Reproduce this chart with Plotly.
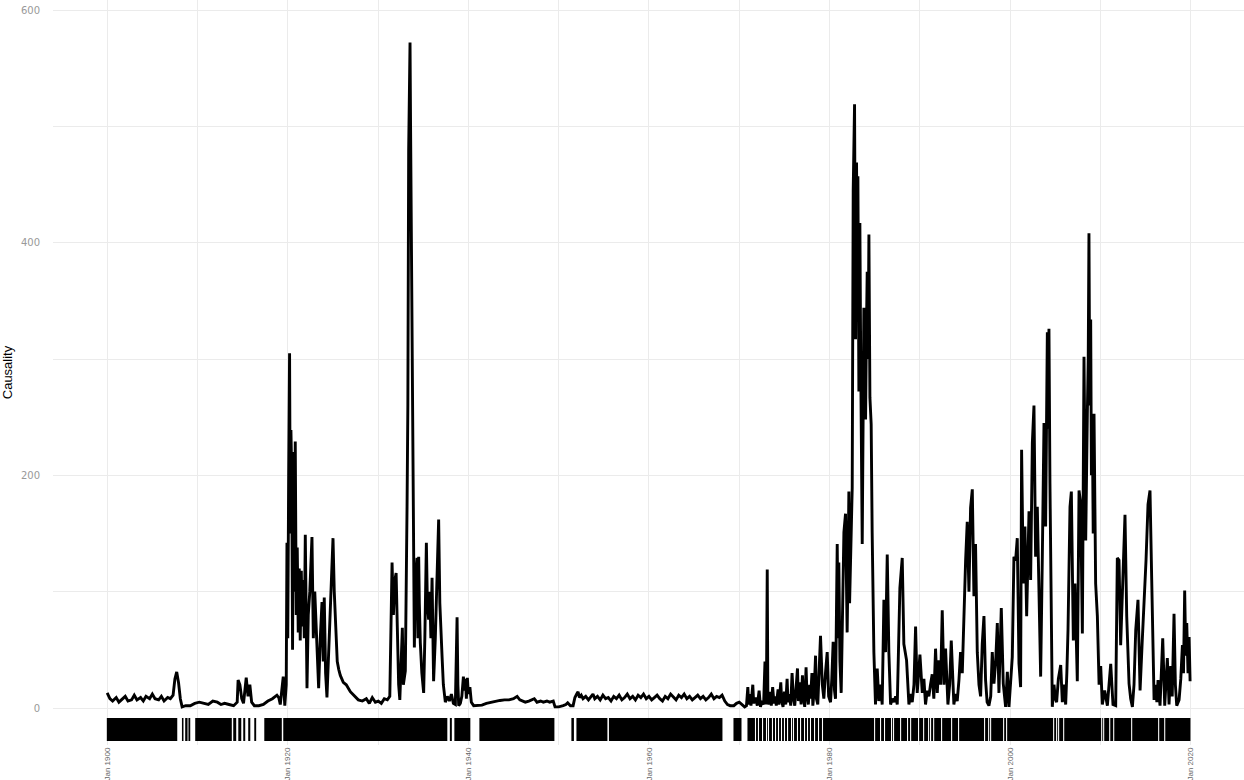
import plotly.graph_objects as go

# ---------------- data (decimal years, causality values) ----------------
yr_1900 = [1900.0, 1900.3, 1900.6, 1901.0, 1901.3, 1901.7, 1902.0, 1902.3, 1902.7, 1903.0,
           1903.3, 1903.7, 1904.0, 1904.3, 1904.7, 1905.0, 1905.3, 1905.7, 1906.0, 1906.3,
           1906.7, 1907.0, 1907.3, 1907.5, 1907.7, 1907.9, 1908.1, 1908.3, 1908.7, 1909.2,
           1909.7, 1910.2, 1910.7, 1911.2, 1911.7, 1912.2, 1912.6, 1913.0, 1913.5, 1914.0,
           1914.4, 1914.5, 1914.7, 1914.9, 1915.1, 1915.3, 1915.4, 1915.6, 1915.8, 1916.0,
           1916.3, 1916.8, 1917.3, 1917.8, 1918.3, 1918.8, 1919.0]
val_1900 = [13, 8, 6, 9, 5, 8, 10, 6, 7, 11,
            7, 9, 6, 10, 8, 12, 8, 7, 10, 6,
            9, 8, 11, 25, 31, 22, 8, 1, 2, 2,
            4, 5, 4, 3, 6, 5, 3, 4, 3, 2,
            5, 24, 20, 8, 4, 18, 26, 10, 20, 5,
            2, 2, 3, 6, 8, 11, 9]

yr_1919 = [1919.17, 1919.33, 1919.5, 1919.67, 1919.83, 1919.91, 1920.0, 1920.1, 1920.2, 1920.28,
           1920.35, 1920.44, 1920.53, 1920.64, 1920.72, 1920.83, 1920.94, 1921.05, 1921.16, 1921.27,
           1921.38, 1921.5, 1921.6, 1921.72, 1921.83, 1921.94, 1922.05, 1922.13, 1922.27, 1922.44,
           1922.68, 1922.83, 1922.99, 1923.16, 1923.42, 1923.6, 1923.79, 1923.93, 1924.04, 1924.19,
           1924.34, 1924.54, 1924.71, 1924.88, 1925.01, 1925.15, 1925.32, 1925.48, 1925.65, 1925.82,
           1926.15, 1926.48, 1926.93, 1927.37, 1927.81, 1928.26, 1928.7, 1929.03, 1929.36, 1929.7,
           1930.03, 1930.36, 1930.69, 1931.03, 1931.3, 1931.55, 1931.7, 1931.86, 1932.0, 1932.13,
           1932.28, 1932.41, 1932.58, 1932.69, 1932.8, 1933.02, 1933.21, 1933.3, 1933.39, 1933.46,
           1933.54, 1933.6, 1933.68, 1933.77, 1933.85, 1933.94, 1934.02, 1934.13, 1934.32, 1934.41,
           1934.5, 1934.57, 1934.68, 1934.85, 1935.05, 1935.18, 1935.35, 1935.46, 1935.6, 1935.73,
           1935.85, 1935.98, 1936.07, 1936.15, 1936.34, 1936.51, 1936.71, 1936.84, 1936.95, 1937.09,
           1937.23, 1937.45, 1937.67, 1937.9, 1938.12, 1938.34, 1938.56, 1938.75, 1938.84, 1938.93,
           1939.11, 1939.28, 1939.45, 1939.56, 1939.67, 1939.78, 1939.89, 1940.0, 1940.17, 1940.33,
           1940.59]
val_1919 = [3, 15, 27, 2, 20, 142, 60, 200, 305, 150,
            239, 200, 50, 220, 100, 229, 80, 138, 65, 120,
            58, 118, 70, 110, 60, 149, 50, 17, 80, 100,
            147, 60, 100, 60, 17, 60, 91, 40, 95, 30,
            9, 50, 87, 110, 146, 100, 60, 40, 33, 28,
            22, 20, 14, 10, 7, 6, 8, 4, 9, 5,
            6, 4, 8, 7, 10, 125, 80, 110, 116, 70,
            20, 7, 40, 69, 20, 32, 173, 260, 480, 540,
            572, 500, 420, 330, 260, 150, 52, 110, 129, 60,
            130, 90, 56, 30, 13, 60, 142, 90, 76, 100,
            60, 112, 50, 23, 60, 100, 162, 90, 60, 44,
            20, 5, 10, 6, 12, 4, 3, 78, 20, 2,
            4, 10, 27, 15, 25, 8, 26, 12, 18, 5,
            2]

yr_1941 = [1941.0, 1941.5, 1942.0, 1942.5, 1943.0, 1943.5, 1944.0, 1944.5, 1945.0, 1945.4,
           1945.7, 1946.0, 1946.3, 1946.7, 1947.0, 1947.3, 1947.6, 1948.0, 1948.3, 1948.7,
           1949.0, 1949.4, 1949.6, 1950.0, 1950.5, 1950.8, 1951.0, 1951.3, 1951.6, 1951.8,
           1952.0, 1952.15, 1952.3, 1952.5, 1952.7, 1953.0, 1953.3, 1953.5, 1953.8, 1954.0,
           1954.3, 1954.6, 1954.9, 1955.2, 1955.5, 1955.8, 1956.1, 1956.4, 1956.7, 1957.0,
           1957.3, 1957.6, 1957.9, 1958.2, 1958.5, 1958.8, 1959.1, 1959.4, 1959.7, 1960.0,
           1960.3, 1960.6, 1960.9, 1961.2, 1961.5, 1961.8, 1962.1, 1962.4, 1962.7, 1963.0,
           1963.3, 1963.6, 1963.9, 1964.2, 1964.5, 1964.8, 1965.1, 1965.4, 1965.7, 1966.0,
           1966.3, 1966.6, 1966.9, 1967.2, 1967.5, 1967.8, 1968.1, 1968.4, 1968.7, 1969.0,
           1969.4, 1969.7, 1970.0, 1970.3, 1970.6]
val_1941 = [2, 2.5, 4, 5, 6, 6.5, 7, 7, 8, 10,
            7, 6, 5, 6, 7, 8, 5, 6, 5, 6,
            5, 6, 1, 1, 2, 3, 4.5, 2, 2, 9,
            12, 14, 9, 11, 8, 10, 7, 9, 12, 8,
            10, 7, 11, 8, 9, 6, 10, 8, 11, 7,
            9, 12, 8, 10, 7, 11, 9, 12, 8, 10,
            7, 9, 11, 8, 6, 10, 8, 12, 9, 7,
            11, 9, 12, 8, 10, 7, 9, 11, 8, 10,
            7, 9, 12, 8, 10, 9, 11, 6, 3, 2,
            2, 4, 5, 3, 1]

yr_1970 = [1970.8, 1970.95, 1971.05, 1971.2, 1971.3, 1971.5, 1971.6, 1971.8, 1972.0, 1972.2,
           1972.35, 1972.5, 1972.7, 1972.85, 1973.0, 1973.1, 1973.17, 1973.3, 1973.45, 1973.55,
           1973.7, 1973.85, 1974.0, 1974.1, 1974.3, 1974.4, 1974.6, 1974.7, 1974.85, 1975.0,
           1975.15, 1975.3, 1975.4, 1975.55, 1975.7, 1975.85, 1976.0, 1976.15, 1976.3, 1976.45,
           1976.55, 1976.7, 1976.85, 1977.0, 1977.1, 1977.25, 1977.4, 1977.5, 1977.65, 1977.8,
           1977.9, 1978.05, 1978.15, 1978.3, 1978.45, 1978.55, 1978.7, 1978.8, 1978.9, 1979.0,
           1979.2, 1979.37, 1979.55, 1979.74, 1979.9, 1980.11, 1980.25, 1980.4, 1980.55, 1980.66,
           1980.85, 1980.95, 1981.03, 1981.15, 1981.29, 1981.45, 1981.59, 1981.77, 1981.95, 1982.05,
           1982.14, 1982.22, 1982.32, 1982.42, 1982.51, 1982.62, 1982.77, 1982.88, 1982.99, 1983.07,
           1983.14, 1983.25, 1983.36, 1983.45, 1983.51, 1983.62, 1983.72, 1983.8, 1983.9, 1983.99,
           1984.08, 1984.17, 1984.27, 1984.36, 1984.47, 1984.61, 1984.72, 1984.81, 1984.91, 1985.09,
           1985.28, 1985.46, 1985.65, 1985.83, 1986.02, 1986.2, 1986.39, 1986.57, 1986.76, 1986.95,
           1987.13, 1987.32, 1987.5, 1987.79, 1988.05, 1988.23, 1988.53, 1988.79, 1988.98, 1989.16,
           1989.35, 1989.53, 1989.71, 1990.01, 1990.27, 1990.45, 1990.63, 1990.82, 1991.0, 1991.18,
           1991.37, 1991.55, 1991.74, 1991.93, 1992.11, 1992.3, 1992.48, 1992.67, 1992.85, 1993.11,
           1993.3, 1993.48, 1993.77, 1993.95, 1994.14, 1994.33, 1994.51, 1994.7, 1994.88, 1995.07,
           1995.25, 1995.44, 1995.62, 1995.81, 1995.99, 1996.17, 1996.36, 1996.55, 1996.73, 1996.91,
           1997.1, 1997.28, 1997.45, 1997.65, 1997.85]
val_1970 = [2, 18, 3, 12, 2, 20, 4, 9, 2, 15,
            1, 6, 3, 40, 3, 119, 8, 3, 14, 2,
            18, 4, 10, 2, 16, 3, 22, 6, 1, 14,
            3, 25, 5, 12, 2, 30, 8, 2, 18, 34,
            6, 22, 3, 28, 10, 1, 35, 12, 3, 20,
            8, 30, 2, 15, 45, 8, 3, 25, 50, 62,
            20, 8, 30, 48, 10, 5, 25, 57, 15, 8,
            141, 60, 125, 40, 13, 90, 151, 167, 65, 120,
            186, 90, 117, 150, 189, 444, 519, 317, 469, 380,
            457, 272, 417, 300, 196, 141, 250, 344, 290, 248,
            320, 375, 300, 407, 267, 244, 151, 90, 48, 3,
            34, 6, 20, 3, 93, 48, 132, 48, 3, 8,
            5, 10, 3, 103, 129, 55, 41, 3, 12, 5,
            20, 70, 13, 46, 13, 25, 3, 15, 10, 20,
            29, 8, 51, 13, 41, 20, 84, 20, 51, 3,
            20, 58, 3, 12, 6, 24, 48, 30, 86, 127,
            160, 100, 172, 188, 96, 141, 48, 20, 10, 55,
            79, 24, 5, 2, 10]

yr_1998 = [1998.02, 1998.21, 1998.4, 1998.58, 1998.76, 1999.02, 1999.24, 1999.5, 1999.69, 1999.87,
           2000.05, 2000.24, 2000.42, 2000.61, 2000.79, 2000.98, 2001.16, 2001.27, 2001.46, 2001.64,
           2001.83, 2002.09, 2002.27, 2002.46, 2002.64, 2002.82, 2003.01, 2003.19, 2003.38, 2003.56,
           2003.75, 2003.93, 2004.03, 2004.12, 2004.22, 2004.3, 2004.41, 2004.56, 2004.67, 2004.86,
           2005.0, 2005.15, 2005.34, 2005.6, 2005.78, 2005.96, 2006.15, 2006.28, 2006.41, 2006.63,
           2006.78, 2007.0, 2007.18, 2007.44, 2007.63, 2007.81, 2008.0, 2008.18, 2008.37, 2008.55,
           2008.65, 2008.73, 2008.82, 2008.92, 2009.0, 2009.1, 2009.2, 2009.29, 2009.47, 2009.66,
           2009.85, 2010.03, 2010.21, 2010.47, 2010.77, 2010.95, 2011.14, 2011.39, 2011.69, 2011.87,
           2012.06, 2012.24, 2012.54, 2012.72, 2012.91, 2013.17, 2013.35, 2013.54, 2013.72, 2013.91,
           2014.16, 2014.39, 2014.65, 2014.83, 2015.05, 2015.27, 2015.49, 2015.68, 2015.94, 2016.12,
           2016.25, 2016.38, 2016.6, 2016.9, 2017.12, 2017.41, 2017.6, 2017.78, 2017.95, 2018.15,
           2018.3, 2018.45, 2018.71, 2018.9, 2019.08, 2019.2, 2019.33, 2019.45, 2019.56, 2019.7,
           2019.82, 2019.93]
val_1998 = [48, 21, 40, 73, 13, 86, 21, 1, 31, 1,
            20, 44, 130, 127, 146, 38, 18, 222, 107, 156,
            79, 169, 110, 228, 260, 130, 173, 107, 27, 127,
            245, 156, 280, 323, 240, 326, 193, 101, 1, 20,
            8, 5, 25, 37, 5, 20, 3, 30, 67, 173,
            186, 58, 107, 23, 187, 176, 64, 302, 144, 253,
            300, 408, 260, 334, 200, 250, 150, 253, 107, 79,
            20, 36, 3, 15, 2, 20, 38, 3, 2, 129,
            127, 54, 129, 166, 79, 21, 8, 1, 20, 67,
            93, 15, 61, 87, 127, 175, 187, 110, 7, 20,
            5, 24, 2, 60, 2, 43, 3, 36, 10, 81,
            20, 2, 7, 25, 54, 30, 101, 45, 73, 30,
            61, 23]

# significance band: white gaps (start, end in decimal years) and single-month gaps
band_first, band_last = 1899.96, 2019.97
gap_starts = [1907.76, 1908.45, 1908.90, 1909.20, 1913.80, 1914.29, 1914.85, 1915.29, 1915.85, 1916.50,
              1919.34, 1937.67, 1938.17, 1940.22, 1949.53, 1951.69, 1955.40, 1968.14, 1970.25]
gap_ends = [1908.28, 1908.64, 1909.00, 1909.75, 1913.96, 1914.52, 1915.07, 1915.62, 1916.29, 1917.40,
            1919.50, 1937.95, 1938.45, 1941.22, 1951.41, 1951.97, 1955.57, 1969.36, 1970.91]
month_gaps = [1971.80, 1972.13, 1972.58, 1973.02, 1973.24, 1973.68, 1974.02, 1974.35, 1974.68, 1975.01,
              1975.35, 1975.79, 1976.01, 1976.45, 1976.79, 1977.23, 1977.56, 1977.89, 1978.34, 1978.78,
              1979.22, 1984.99, 1985.65, 1986.09, 1986.87, 1987.09, 1987.87, 1988.64, 1988.98, 1989.86,
              1990.42, 1990.97, 1991.19, 1991.53, 1992.41, 1993.52, 1994.29, 1997.17, 1997.62, 1997.84,
              1999.28, 1999.61, 2004.82, 2005.15, 2005.37, 2005.93, 2010.14, 2010.36, 2011.03, 2011.47,
              2013.46, 2016.45, 2017.12]
month_gap_width = 0.12
band_top, band_bottom = -8.6, -28.4

x_tick_years = [1900, 1910, 1920, 1930, 1940, 1950, 1960, 1970, 1980, 1990, 2000, 2010, 2020]
x_tick_labels = ["Jan 1900", "", "Jan 1920", "", "Jan 1940", "", "Jan 1960", "", "Jan 1980", "",
                 "Jan 2000", "", "Jan 2020"]
y_tick_vals = [0, 100, 200, 300, 400, 500, 600]
y_tick_labels = ["0", "", "200", "", "400", "", "600"]

# ---------------- build ----------------
years = yr_1900 + yr_1919 + yr_1941 + yr_1970 + yr_1998
vals = val_1900 + val_1919 + val_1941 + val_1970 + val_1998

gaps = list(zip(gap_starts, gap_ends)) + [(c - month_gap_width / 2, c + month_gap_width / 2) for c in month_gaps]
gaps.sort()
black = []
cur = band_first
for s, e in gaps:
    if s > cur:
        black.append((cur, s))
    cur = max(cur, e)
if cur < band_last:
    black.append((cur, band_last))

bx, by = [], []
for s, e in black:
    bx += [s, e, e, s, s, None]
    by += [band_top, band_top, band_bottom, band_bottom, band_top, None]

fig = go.Figure()
fig.add_trace(go.Scatter(x=bx, y=by, mode="lines", fill="toself", fillcolor="black",
                         line=dict(width=0, color="black"), hoverinfo="skip", showlegend=False))
fig.add_trace(go.Scatter(x=years, y=vals, mode="lines", line=dict(color="black", width=2.9),
                         showlegend=False))

grid = "#ebebeb"
fig.update_layout(
    width=1244, height=780, autosize=False,
    margin=dict(l=53, r=0, t=0, b=35),
    paper_bgcolor="white", plot_bgcolor="white",
    showlegend=False,
    xaxis=dict(range=[1894.0, 2025.9], tickmode="array", tickvals=x_tick_years, ticktext=x_tick_labels,
               tickangle=-90, showgrid=True, gridcolor=grid, gridwidth=1, zeroline=False, showline=False,
               automargin=False, ticks="",
               tickfont=dict(family="Liberation Sans", size=8, color="#666666")),
    yaxis=dict(range=[-31.8, 608.6], tickmode="array", tickvals=y_tick_vals, ticktext=y_tick_labels,
               showgrid=True, gridcolor=grid, gridwidth=1, zeroline=False, showline=False, ticks="",
               automargin=False, ticklabelstandoff=12,
               tickfont=dict(family="DejaVu Sans", size=10, color="#999999"),
               title=dict(text="Causality", standoff=6,
                          font=dict(family="Liberation Sans", size=13, color="black"))),
)

fig.write_html("out.html")
